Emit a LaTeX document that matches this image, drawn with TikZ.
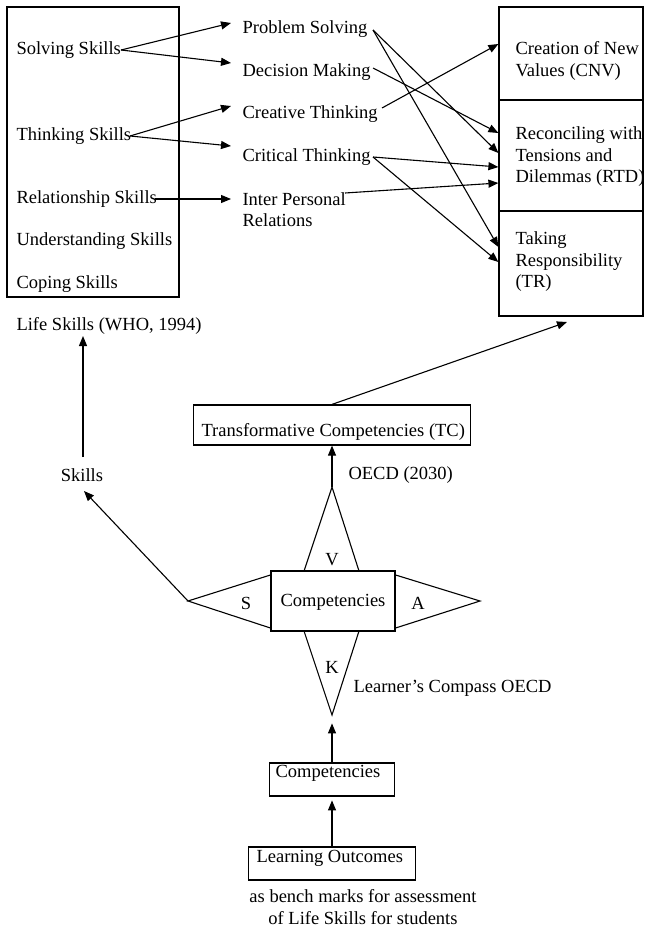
\documentclass[tikz,border=0pt]{standalone}
\usepackage{fontspec}
\setmainfont{Liberation Serif}
\usetikzlibrary{arrows.meta}
\begin{document}
\begin{tikzpicture}[x=1pt,y=-1pt,line width=1.1pt,
  txt/.style={inner sep=0pt,anchor=west,font=\fontsize{18.5}{21.5}\selectfont,align=left},
  ctxt/.style={inner sep=0pt,font=\fontsize{18.5}{21.5}\selectfont,align=center},
  arr/.style={-{Triangle[length=10pt,width=8pt]}},
  box/.style={draw,line width=1.2pt,inner sep=0pt}]
\useasboundingbox (0,0) rectangle (649,928);
% left box
\node[box,minimum width=172pt,minimum height=290pt] (lsbox) at (93,152) {};
\node[txt] (ss) at (16,50) {Solving Skills};
\node[txt] (ts) at (16,136) {Thinking Skills};
\node[txt] (rs) at (16,199) {Relationship Skills};
\node[txt] (us) at (16,241) {Understanding Skills};
\node[txt] (cs) at (16,284) {Coping Skills};
\node[txt] (lifes) at (16,326) {Life Skills (WHO, 1994)};
% middle
\node[txt] (ps) at (242,29) {Problem Solving};
\node[txt] (dm) at (242,72) {Decision Making};
\node[txt] (ct) at (242,114) {Creative Thinking};
\node[txt] (crt) at (242,157) {Critical Thinking};
\node[txt] (ipr) at (242,209.5) {Inter Personal\\Relations};
% right boxes
\node[box,minimum width=144pt,minimum height=93pt] (cnv) at (571,53.5) {};
\node[box,minimum width=144pt,minimum height=111pt] (rtd) at (571,155.5) {};
\node[box,minimum width=144pt,minimum height=105pt] (tr) at (571,263.5) {};
\node[txt] (cnvt) at (515,61) {Creation of New\\Values (CNV)};
\node[txt] (rtdt) at (515,157) {Reconciling with\\Tensions and\\Dilemmas (RTD)};
\node[txt] (trt) at (515,262) {Taking\\Responsibility\\(TR)};
% coordinates
\coordinate (ssE) at (121,50);
\coordinate (tsE) at (130,136);
\coordinate (rsE) at (155,199);
\coordinate (psW) at (231,23);
\coordinate (dmW) at (231,63);
\coordinate (ctW) at (231,106);
\coordinate (crtW) at (231,146);
\coordinate (iprW) at (231,199);
\coordinate (psE) at (373,30);
\coordinate (dmE) at (373,68);
\coordinate (ctE) at (382,108);
\coordinate (crtE) at (373,157);
\coordinate (iprE) at (345,193);
\draw[arr] (ssE) -- (psW);
\draw[arr] (ssE) -- (dmW);
\draw[arr] (tsE) -- (ctW);
\draw[arr] (tsE) -- (crtW);
\draw[arr] (rsE) -- (iprW);
\draw[arr] (psE) -- (rtd.west |- 0,153);
\draw[arr] (psE) -- (tr.west |- 0,247);
\draw[arr] (dmE) -- (rtd.west |- 0,133);
\draw[arr] (ctE) -- (cnv.west |- 0,44);
\draw[arr] (crtE) -- (rtd.west |- 0,167);
\draw[arr] (crtE) -- (tr.west |- 0,262);
\draw[arr] (iprE) -- (rtd.west |- 0,183);
% TC
\node[box,minimum width=277pt,minimum height=40pt] (tc) at (332,425) {};
\node[txt] (tct) at (201,432) {Transformative Competencies (TC)};
\coordinate (trS) at (567,322);
\draw[arr] (tc.north) -- (trS);
\node[txt] (oecd) at (348,475) {OECD (2030)};
% compass
\node[box,minimum width=124pt,minimum height=60pt] (comp) at (333,601) {};
\node[ctxt] (compt) at (333,602) {Competencies};
\coordinate (vtop) at (332,487);
\coordinate (sapex) at (188,601);
\coordinate (aapex) at (480,601);
\coordinate (kbot) at (332,715);
\draw (304,571) -- (vtop) -- (359,571);
\draw (comp.west |- 0,575) -- (sapex) -- (comp.west |- 0,628);
\draw (comp.east |- 0,575) -- (aapex) -- (comp.east |- 0,628);
\draw (304,631) -- (kbot) -- (359,631);
\node[ctxt] (v) at (332,560) {V};
\node[ctxt] (s) at (246,603) {S};
\node[ctxt] (a) at (418,603) {A};
\node[ctxt] (k) at (332,667) {K};
\node[txt] (lc) at (353,688) {Learner’s Compass OECD};
\draw[arr] (vtop) -- (tc.south);
% skills
\node[ctxt] (sk) at (82,475) {Skills};
\coordinate (skS) at (84,491);
\coordinate (skN) at (83,457);
\coordinate (lifeS) at (83,336);
\draw[arr] (sapex) -- (skS);
\draw[arr] (skN) -- (lifeS);
% bottom
\node[box,minimum width=125pt,minimum height=33pt] (comp2) at (332,779.5) {};
\node[txt] (comp2t) at (275,773) {Competencies};
\node[box,minimum width=167pt,minimum height=33pt] (lo) at (332,863.5) {};
\node[txt] (lot) at (256,858) {Learning Outcomes};
\draw[arr] (comp2.north) -- ++(0,-39);
\draw[arr] (lo.north) -- ++(0,-46);
\node[ctxt] (bench) at (363,907) {as bench marks for assessment\\of Life Skills for students};
\end{tikzpicture}
\end{document}
